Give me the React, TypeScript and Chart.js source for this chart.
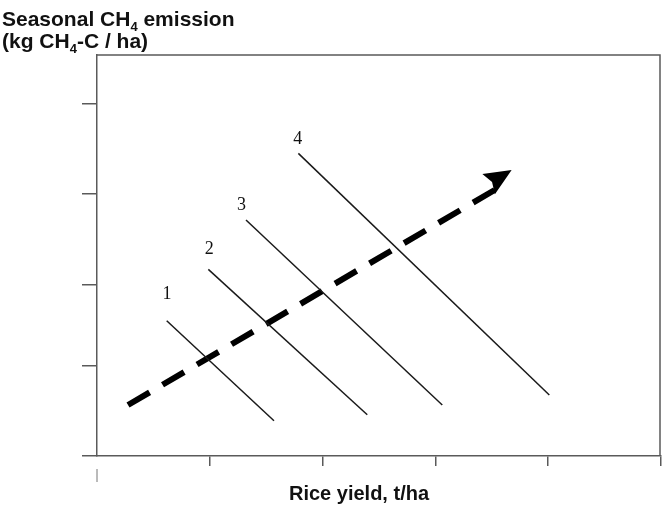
import React, { useEffect, useRef } from "react";
import { Chart, registerables } from "chart.js";

Chart.register(...registerables);

// ---- data (arbitrary units) ----
const X_TICKS = [0, 1, 2, 3, 4, 5];
const Y_TICKS = [0, 1, 1.9, 2.91, 3.91];
const X_MAX = 5;
const Y_MAX = 4.456;

const LINE_LABELS = ["1", "2", "3", "4"];
const LINE_START_X = [0.618, 0.987, 1.321, 1.785];
const LINE_START_Y = [1.503, 2.074, 2.622, 3.363];
const LINE_END_X = [1.569, 2.396, 3.061, 4.01];
const LINE_END_Y = [0.392, 0.459, 0.567, 0.678];
const LABEL_X = [0.62, 0.995, 1.28, 1.78];
const LABEL_Y = [1.8, 2.3, 2.79, 3.52];

const ARROW_X = [0.275, 3.676];
const ARROW_Y = [0.567, 3.178];

const Y_TITLE_1 = ["Seasonal CH", "4", " emission"];
const Y_TITLE_2 = ["(kg CH", "4", "-C / ha)"];
const X_TITLE = "Rice yield, t/ha";

const AXIS_COLOR = "#5a5a5a";

function drawSubText(ctx: CanvasRenderingContext2D, parts: string[], x: number, y: number, size: number) {
  ctx.textBaseline = "alphabetic";
  ctx.textAlign = "left";
  let cx = x;
  parts.forEach((p, i) => {
    const sub = i === 1;
    ctx.font = `bold ${sub ? Math.round(size * 0.62) : size}px "Liberation Sans", Arial, sans-serif`;
    ctx.fillText(p, cx, sub ? y + size * 0.22 : y);
    cx += ctx.measureText(p).width;
  });
}

const decorPlugin = {
  id: "decor",
  afterDraw(chart: any) {
    const { ctx, chartArea: ca, scales } = chart;
    const xs = scales.x;
    const ys = scales.y;
    ctx.save();
    // top and right frame
    ctx.strokeStyle = AXIS_COLOR;
    ctx.lineWidth = 1.5;
    ctx.beginPath();
    ctx.moveTo(ca.left, ca.top);
    ctx.lineTo(ca.right - 1, ca.top);
    ctx.lineTo(ca.right - 1, ca.bottom);
    ctx.stroke();

    // stray mark under the origin
    ctx.strokeStyle = "#777";
    ctx.lineWidth = 1;
    ctx.beginPath();
    ctx.moveTo(ca.left, 469);
    ctx.lineTo(ca.left, 482);
    ctx.stroke();

    // line labels
    ctx.fillStyle = "#111";
    ctx.font = '18px "Liberation Serif", "Times New Roman", serif';
    ctx.textAlign = "center";
    ctx.textBaseline = "middle";
    LINE_LABELS.forEach((t, i) => {
      ctx.fillText(t, xs.getPixelForValue(LABEL_X[i]), ys.getPixelForValue(LABEL_Y[i]));
    });

    // arrow head
    const x0 = xs.getPixelForValue(ARROW_X[0]);
    const y0 = ys.getPixelForValue(ARROW_Y[0]);
    const x1 = xs.getPixelForValue(ARROW_X[1]);
    const y1 = ys.getPixelForValue(ARROW_Y[1]);
    const ang = Math.atan2(y1 - y0, x1 - x0);
    const len = 27;
    const half = 12;
    const bx = x1 - len * Math.cos(ang);
    const by = y1 - len * Math.sin(ang);
    ctx.fillStyle = "#000";
    ctx.beginPath();
    ctx.moveTo(x1, y1);
    ctx.lineTo(bx + half * Math.sin(ang), by - half * Math.cos(ang));
    ctx.lineTo(bx + 4 * Math.cos(ang), by + 4 * Math.sin(ang));
    ctx.lineTo(bx - half * Math.sin(ang), by + half * Math.cos(ang));
    ctx.closePath();
    ctx.fill();

    // titles
    ctx.fillStyle = "#111";
    drawSubText(ctx, Y_TITLE_1, 2, 26, 21);
    drawSubText(ctx, Y_TITLE_2, 2, 48, 21);
    ctx.font = 'bold 20px "Liberation Sans", Arial, sans-serif';
    ctx.textAlign = "center";
    ctx.textBaseline = "alphabetic";
    ctx.fillText(X_TITLE, 359, 500);
    ctx.restore();
  },
};

export default function App() {
  const ref = useRef<HTMLCanvasElement | null>(null);
  useEffect(() => {
    if (!ref.current) return;
    const lineSets = LINE_LABELS.map((l, i) => ({
      label: l,
      data: [
        { x: LINE_START_X[i], y: LINE_START_Y[i] },
        { x: LINE_END_X[i], y: LINE_END_Y[i] },
      ],
      borderColor: "#1a1a1a",
      borderWidth: 1.5,
      pointRadius: 0,
      fill: false,
    }));
    const arrowSet = {
      label: "arrow",
      data: [
        { x: ARROW_X[0], y: ARROW_Y[0] },
        { x: ARROW_X[1] - 0.12, y: ARROW_Y[1] - 0.2 },
      ],
      borderColor: "#000",
      borderWidth: 6,
      borderDash: [25, 15],
      pointRadius: 0,
      fill: false,
    };
    const chart = new Chart(ref.current, {
      type: "line",
      data: { datasets: [...lineSets, arrowSet] as any },
      options: {
        animation: false,
        responsive: false,
        events: [],
        layout: { padding: { top: 55, right: 3, left: 0, bottom: 0 } },
        plugins: { legend: { display: false }, tooltip: { enabled: false } },
        scales: {
          x: {
            type: "linear",
            min: 0,
            max: X_MAX,
            afterBuildTicks: (s: any) => {
              s.ticks = X_TICKS.map((v) => ({ value: v }));
            },
            afterFit: (s: any) => {
              s.height = 59;
            },
            ticks: { display: false },
            grid: {
              drawOnChartArea: false,
              tickLength: 10,
              lineWidth: 1.5,
              color: (c: any) => (c.index === 0 ? "rgba(0,0,0,0)" : AXIS_COLOR),
            },
            border: { color: AXIS_COLOR, width: 1.5 },
          },
          y: {
            type: "linear",
            min: 0,
            max: Y_MAX,
            afterBuildTicks: (s: any) => {
              s.ticks = Y_TICKS.map((v) => ({ value: v }));
            },
            afterFit: (s: any) => {
              s.width = 97;
            },
            ticks: { display: false },
            grid: {
              drawOnChartArea: false,
              tickLength: 15,
              lineWidth: 1.5,
              color: AXIS_COLOR,
            },
            border: { color: AXIS_COLOR, width: 1.5 },
          },
        },
      },
      plugins: [decorPlugin],
    });
    return () => chart.destroy();
  }, []);
  return (
    <div style={{ position: "fixed", left: 0, top: 0, width: 664, height: 515, background: "#fff" }}>
      <canvas ref={ref} width={664} height={515} style={{ width: 664, height: 515 }} />
    </div>
  );
}
